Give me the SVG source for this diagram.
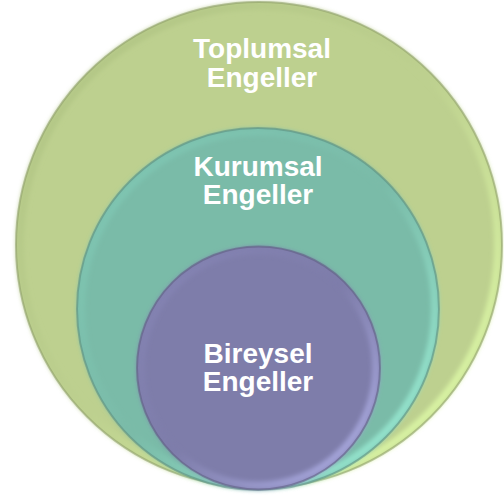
<svg xmlns="http://www.w3.org/2000/svg" width="504" height="495" viewBox="0 0 504 495">
<style>
.lbl{font-family:"Liberation Sans",Arial,sans-serif;font-weight:bold;font-size:28px;fill:#ffffff;text-anchor:middle}
.edge{fill:none;stroke-width:2;stroke-opacity:0.55}
</style>
<defs>
<linearGradient id="gO" x1="0" y1="0" x2="1" y2="1">
<stop offset="0" stop-color="#b0c483"/><stop offset="0.5" stop-color="#bdd08f"/><stop offset="1" stop-color="#e2ffaa"/>
</linearGradient>
<linearGradient id="gM" x1="0" y1="0" x2="1" y2="1">
<stop offset="0" stop-color="#80c8b4"/><stop offset="0.5" stop-color="#7abba8"/><stop offset="1" stop-color="#9cf0d8"/>
</linearGradient>
<linearGradient id="gI" x1="0" y1="0" x2="1" y2="1">
<stop offset="0" stop-color="#8584b4"/><stop offset="0.5" stop-color="#7e7daa"/><stop offset="1" stop-color="#b0b0e8"/>
</linearGradient>
<filter id="blur" x="-10%" y="-10%" width="120%" height="120%"><feGaussianBlur stdDeviation="2"/></filter>
</defs>
<g id="outer">
<circle cx="259" cy="245" r="243" fill="#bdd08f"/>
<circle cx="259" cy="245" r="239" fill="none" stroke="url(#gO)" stroke-width="8" filter="url(#blur)"/>
<circle cx="259" cy="245" r="243" class="edge" stroke="#8a9a66"/>
<text class="lbl" x="262" y="58">Toplumsal</text>
<text class="lbl" x="262" y="87">Engeller</text>
</g>
<g id="middle">
<circle cx="258" cy="309" r="181" fill="#7abba8"/>
<circle cx="258" cy="309" r="177" fill="none" stroke="url(#gM)" stroke-width="8" filter="url(#blur)"/>
<circle cx="258" cy="309" r="181" class="edge" stroke="#5a8a7c"/>
<text class="lbl" x="258" y="176">Kurumsal</text>
<text class="lbl" x="258" y="204">Engeller</text>
</g>
<g id="inner">
<circle cx="258.5" cy="368" r="121.5" fill="#7e7daa"/>
<circle cx="258.5" cy="368" r="117.5" fill="none" stroke="url(#gI)" stroke-width="8" filter="url(#blur)"/>
<circle cx="258.5" cy="368" r="121.5" class="edge" stroke="#5c5b80"/>
<text class="lbl" x="258" y="363">Bireysel</text>
<text class="lbl" x="258" y="391">Engeller</text>
</g>
<g id="connectors"/>
</svg>
